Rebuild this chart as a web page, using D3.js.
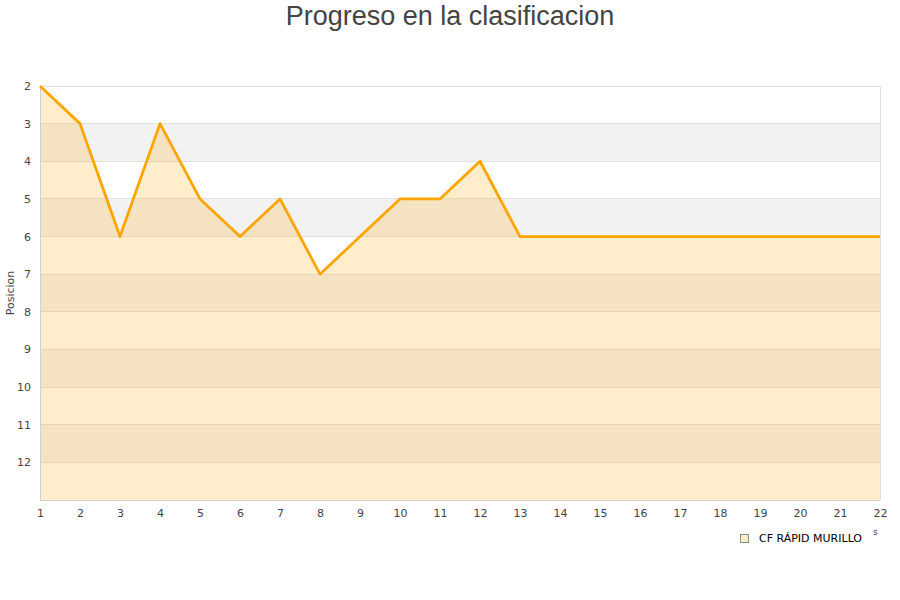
<!DOCTYPE html>
<html><head><meta charset="utf-8">
<script src="https://cdn.jsdelivr.net/npm/d3@7/dist/d3.min.js"></script>
<style>body{margin:0;background:#fff;font-family:"DejaVu Sans",sans-serif}</style>
</head><body><svg id="c" width="900" height="600"></svg>
<script>
const jornadas = [1,2,3,4,5,6,7,8,9,10,11,12,13,14,15,16,17,18,19,20,21,22];
const posiciones = [2,3,6,3,5,6,5,7,6,5,5,4,6,6,6,6,6,6,6,6,6,6];
const yTicks = [2,3,4,5,6,7,8,9,10,11,12];
const teamName = "CF RÁPID MURILLO";
const title = "Progreso en la clasificacion";
const yLabel = "Posicion";

const svg = d3.select("#c");
const L=40,R=880,T=86,B=500;
const x = d3.scaleLinear().domain([1,22]).range([L,R]);
const y = d3.scaleLinear().domain([2,13]).range([T,B]);

const bandStarts = d3.range(2,13);
svg.selectAll("rect.band").data(bandStarts).enter().append("rect")
  .attr("x",L).attr("width",R-L)
  .attr("y",d=>y(d)).attr("height",d=>y(d+1)-y(d))
  .attr("fill",d=>d%2===1?"#f2f2f2":"#ffffff");
svg.selectAll("line.grid").data(d3.range(2,14)).enter().append("line")
  .attr("x1",L).attr("x2",R).attr("y1",d=>y(d)).attr("y2",d=>y(d))
  .attr("stroke","#e0e0e0").attr("stroke-width",1).attr("shape-rendering","crispEdges");

const data = jornadas.map((j,i)=>({j,p:posiciones[i]}));
svg.append("path").datum(data)
  .attr("d",d3.area().x(d=>x(d.j)).y0(y(13)).y1(d=>y(d.p)))
  .attr("fill","#ffa500").attr("fill-opacity",0.2);

svg.append("line").attr("x1",L).attr("x2",L).attr("y1",T).attr("y2",B).attr("stroke","#d0d0d0").attr("shape-rendering","crispEdges");
svg.append("line").attr("x1",R).attr("x2",R).attr("y1",T).attr("y2",B).attr("stroke","#e0e0e0").attr("shape-rendering","crispEdges");
svg.append("line").attr("x1",L).attr("x2",R).attr("y1",B).attr("y2",B).attr("stroke","#d0d0d0").attr("shape-rendering","crispEdges");

svg.append("path").datum(data)
  .attr("d",d3.line().x(d=>x(d.j)).y(d=>y(d.p)))
  .attr("fill","none").attr("stroke","#ffa500").attr("stroke-width",2.8).attr("stroke-linejoin","round");

const ya = svg.append("g").attr("transform",`translate(${L},0)`)
  .call(d3.axisLeft(y).tickValues(yTicks).tickSize(0).tickPadding(9));
ya.select(".domain").remove();
ya.selectAll("text").attr("font-family","DejaVu Sans").attr("font-size",11).attr("fill","#444");

const xa = svg.append("g").attr("transform",`translate(0,${B})`)
  .call(d3.axisBottom(x).tickValues(jornadas).tickFormat(d3.format("d")).tickSize(0).tickPadding(9));
xa.select(".domain").remove();
xa.selectAll("text").attr("font-family","DejaVu Sans").attr("font-size",11).attr("fill","#444");

svg.append("text").attr("x",450).attr("y",25).attr("text-anchor","middle")
  .attr("font-family","Liberation Sans, Arial, sans-serif").attr("font-size",27).attr("fill","#444").text(title);

svg.append("text").attr("transform",`translate(14,${(T+B)/2}) rotate(-90)`).attr("text-anchor","middle")
  .attr("font-family","DejaVu Sans").attr("font-size",11).attr("fill","#444").text(yLabel);

svg.append("rect").attr("x",740.5).attr("y",534.5).attr("width",8).attr("height",8)
  .attr("fill","#ffedcc").attr("stroke","#888").attr("stroke-width",1);
svg.append("text").attr("x",759).attr("y",542).attr("font-family","DejaVu Sans").attr("font-size",11).attr("fill","#000").text(teamName);
svg.append("text").attr("x",873).attr("y",535).attr("font-family","DejaVu Sans").attr("font-size",9).attr("fill","#444").text("s");
</script></body></html>
